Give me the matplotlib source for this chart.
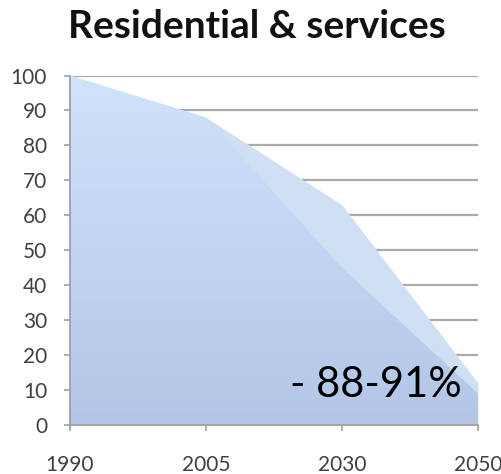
import numpy as np
import matplotlib.pyplot as plt
from matplotlib.colors import LinearSegmentedColormap

plt.rcParams['font.family'] = ['Lato', 'DejaVu Sans']

years = ['1990', '2005', '2030', '2050']
upper = [100, 88, 63, 12]   # lighter band
lower = [100, 88, 45, 9]    # darker band
yticks = list(range(0, 101, 10))

fig = plt.figure(figsize=(5.02, 4.74), dpi=100)
ax = fig.add_axes([0.1394, 0.1034, 0.8127, 0.7373])

x = np.arange(len(years))

for y in yticks[1:]:
    ax.axhline(y, color='#a9a9a9', lw=1.6, zorder=1)

ax.fill_between(x, upper, color='#d0e0f3', lw=0, zorder=2)
poly = ax.fill_between(x, lower, color='none', lw=0, zorder=3)

# vertical gradient inside the lower area
cmap = LinearSegmentedColormap.from_list('g', ['#b2c6e7', '#d1e2fb'])
grad = np.linspace(0, 1, 256).reshape(-1, 1)
im = ax.imshow(grad, extent=[0, 3, 0, 100], origin='lower', aspect='auto',
               cmap=cmap, zorder=3)
im.set_clip_path(poly.get_paths()[0], transform=ax.transData)

ax.set_xlim(0, 3)
ax.set_ylim(0, 100)
ax.set_xticks(x)
ax.set_xticklabels(years)
ax.set_yticks(yticks)

for s in ['top', 'right']:
    ax.spines[s].set_visible(False)
for s in ['left', 'bottom']:
    ax.spines[s].set_color('#a0a0a0')
    ax.spines[s].set_linewidth(1.3)
    ax.spines[s].set_zorder(5)

ax.tick_params(axis='both', direction='out', length=4.5, width=1.2,
               color='#a0a0a0', labelcolor='#404040', labelsize=15)
ax.tick_params(axis='y', pad=12)
ax.tick_params(axis='x', pad=17)

ax.text(2.25, 8, '- 88-91%', ha='center', va='baseline', fontsize=30,
        color='black', zorder=6)

fig.text(0.511, 1 - 38 / 474, 'Residential & services', ha='center',
         va='baseline', fontsize=28, fontweight='bold', color='#111111')

fig.savefig('out.png', dpi=100)
